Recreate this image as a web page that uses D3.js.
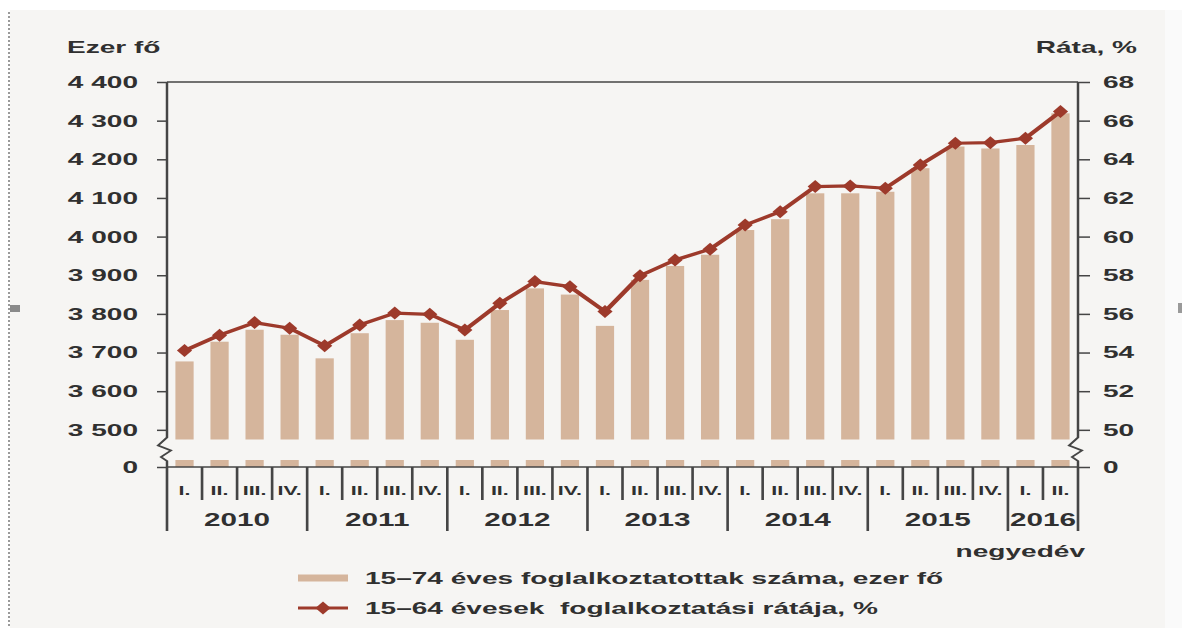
<!DOCTYPE html>
<html>
<head>
<meta charset="utf-8">
<script src="https://cdn.jsdelivr.net/npm/d3@7/dist/d3.min.js"></script>
<style>
  html, body { margin: 0; padding: 0; background: #ffffff; }
  svg { display: block; }
  text { font-family: "Liberation Sans", Arial, sans-serif; font-weight: 700; fill: #303030; }
</style>
</head>
<body>
<svg id="chart"></svg>
<script>
// Quarterly employment, Hungary 2010 Q1 – 2016 Q2
const years = ["2010", "2011", "2012", "2013", "2014", "2015", "2016"];
const quartersPerYear = [4, 4, 4, 4, 4, 4, 2];
const quarterNames = ["I.", "II.", "III.", "IV."];

// 15–74 year-olds in employment, thousand persons
const employed = [
  3677, 3728, 3759, 3746,
  3685, 3750, 3784, 3777,
  3733, 3810, 3866, 3850,
  3769, 3888, 3924, 3953,
  4017, 4045, 4112, 4112,
  4116, 4177, 4233, 4228,
  4237, 4319
];

// Employment rate of 15–64 year-olds, %
const rate = [
  54.1, 54.9, 55.55, 55.26,
  54.35, 55.43, 56.04, 55.98,
  55.17, 56.55, 57.67, 57.41,
  56.12, 57.97, 58.79, 59.35,
  60.6, 61.29, 62.59, 62.62,
  62.5, 63.71, 64.83, 64.86,
  65.09, 66.47
];

const leftTicks = [0, 3500, 3600, 3700, 3800, 3900, 4000, 4100, 4200, 4300, 4400];
const rightTicks = [0, 50, 52, 54, 56, 58, 60, 62, 64, 66, 68];

// Axis break: values between these pairs are collapsed into a small gap
const leftBreak = [25, 3475];
const rightBreak = [0.5, 49.5];

const legendLabels = [
  "15–74 éves foglalkoztatottak száma, ezer fő",
  "15–64 évesek  foglalkoztatási rátája, %"
];

// ---------------------------------------------------------------
const W = 1182, H = 628;
const SX = 1.65;                 // horizontal stretch of the whole drawing
const px = v => v / SX;          // screen x -> drawing x

const barColor = "#d5b59c";
const lineColor = "#9d3a2b";
const axisColor = "#454545";

const svg = d3.select("#chart")
  .attr("width", W).attr("height", H)
  .attr("viewBox", `0 0 ${W / SX} ${H}`)
  .attr("preserveAspectRatio", "none");

// page panel
svg.append("rect").attr("x", px(10)).attr("y", 10)
  .attr("width", px(1155)).attr("height", H - 10).attr("fill", "#f6f5f3");
svg.append("rect").attr("x", px(1165)).attr("y", 10)
  .attr("width", px(17)).attr("height", H - 10).attr("fill", "#fafafa");
svg.append("line").attr("x1", px(9)).attr("x2", px(9)).attr("y1", 12).attr("y2", H)
  .attr("stroke", "#9a9a9a").attr("stroke-width", 1.2).attr("stroke-dasharray", "2,2");
svg.append("rect").attr("x", px(10)).attr("y", 305).attr("width", px(10)).attr("height", 7).attr("fill", "#8a8a8a");
svg.append("rect").attr("x", px(1178)).attr("y", 303).attr("width", px(4)).attr("height", 10).attr("fill", "#9a9a9a");

// categories
const categories = [];
years.forEach((y, yi) => {
  for (let q = 0; q < quartersPerYear[yi]; q++) categories.push({ year: y, q: quarterNames[q], first: q === 0 });
});

const x = d3.scaleBand()
  .domain(d3.range(categories.length))
  .range([px(167), px(1078)])
  .paddingInner(0.48)
  .paddingOuter(0.24);

const yL = d3.scaleLinear()
  .domain([0, leftBreak[0], leftBreak[1], 4400])
  .range([467, 460, 439.5, 82]);
const yR = d3.scaleLinear()
  .domain([0, rightBreak[0], rightBreak[1], 68])
  .range([467, 460, 439.5, 82]);

const x0 = x.range()[0], x1 = x.range()[1];
const edge = i => x0 + i * x.step();

// bars: upper part above the break, short stub below it
const bars = svg.append("g").attr("fill", barColor);
bars.selectAll("rect.upper").data(employed).join("rect")
  .attr("class", "upper")
  .attr("x", (d, i) => x(i)).attr("width", x.bandwidth())
  .attr("y", d => yL(d)).attr("height", d => yL(leftBreak[1]) - yL(d));
bars.selectAll("rect.stub").data(employed).join("rect")
  .attr("class", "stub")
  .attr("x", (d, i) => x(i)).attr("width", x.bandwidth())
  .attr("y", yL(leftBreak[0])).attr("height", yL(0) - yL(leftBreak[0]));

// frame: top and bottom lines
const frame = svg.append("g").attr("stroke", axisColor).attr("stroke-width", 1.5).attr("fill", "none");
frame.append("line").attr("x1", x0).attr("x2", x1).attr("y1", yL(4400)).attr("y2", yL(4400));
frame.append("line").attr("x1", x0).attr("x2", x1).attr("y1", yL(0)).attr("y2", yL(0));

// broken vertical axis lines
function brokenAxis(xa) {
  const top = yL(4400), b1 = yL(leftBreak[1]) - 2, b2 = yL(leftBreak[0]) + 1, bot = yL(0);
  const p = d3.path();
  p.moveTo(xa, top); p.lineTo(xa, b1);
  p.lineTo(xa - px(9), b1 + 8);
  p.lineTo(xa + px(4), b1 + 13);
  p.lineTo(xa - px(6), b2 - 4);
  p.lineTo(xa, b2);
  p.lineTo(xa, bot);
  return p.toString();
}
frame.append("path").attr("d", brokenAxis(x0));
frame.append("path").attr("d", brokenAxis(x1));

// left axis
const huFmt = d3.formatLocale({ decimal: ",", thousands: "\u00a0", grouping: [3], currency: ["", ""] }).format(",");
const axL = svg.append("g").attr("transform", `translate(${x0},0)`)
  .call(d3.axisLeft(yL).tickValues(leftTicks).tickFormat(huFmt).tickSize(px(10)).tickPadding(px(19)));
axL.select(".domain").remove();
axL.selectAll(".tick line").attr("stroke", axisColor).attr("stroke-width", 1.5);
axL.selectAll(".tick text").attr("font-size", 17).attr("fill", "#303030")
  .style("font-family", null);
axL.attr("font-family", null).attr("font-size", null);

// right axis
const axR = svg.append("g").attr("transform", `translate(${x1},0)`)
  .call(d3.axisRight(yR).tickValues(rightTicks).tickSize(px(12)).tickPadding(px(13)));
axR.select(".domain").remove();
axR.selectAll(".tick line").attr("stroke", axisColor).attr("stroke-width", 1.5);
axR.selectAll(".tick text").attr("font-size", 17).attr("fill", "#303030");
axR.attr("font-family", null).attr("font-size", null);

// axis titles
svg.append("text").attr("x", px(67)).attr("y", 53).attr("font-size", 17).text("Ezer fő");
svg.append("text").attr("x", px(1137)).attr("y", 53).attr("font-size", 17)
  .attr("text-anchor", "end").text("Ráta, %");

// category axis: quarter cells and year groups
const cat = svg.append("g");
d3.range(categories.length + 1).forEach(i => {
  const isYear = i === categories.length || categories[i].first;
  cat.append("line")
    .attr("x1", edge(i)).attr("x2", edge(i))
    .attr("y1", yL(0)).attr("y2", isYear ? 531 : 500)
    .attr("stroke", axisColor).attr("stroke-width", 1.6);
});
cat.selectAll("text.q").data(categories).join("text")
  .attr("class", "q")
  .attr("x", (d, i) => x(i) + x.bandwidth() / 2)
  .attr("y", 495)
  .attr("text-anchor", "middle")
  .attr("font-size", 13)
  .text(d => d.q);

let start = 0;
years.forEach((y, yi) => {
  const n = quartersPerYear[yi];
  cat.append("text")
    .attr("x", (edge(start) + edge(start + n)) / 2)
    .attr("y", 526)
    .attr("text-anchor", "middle")
    .attr("font-size", 18)
    .text(y);
  start += n;
});
svg.append("text").attr("x", px(1085)).attr("y", 557).attr("text-anchor", "end")
  .attr("font-size", 17).text("negyedév");

// rate line with diamond markers
const line = d3.line()
  .x((d, i) => x(i) + x.bandwidth() / 2)
  .y(d => yR(d));
svg.append("path").datum(rate)
  .attr("d", line)
  .attr("fill", "none").attr("stroke", lineColor).attr("stroke-width", 3.2)
  .attr("stroke-linejoin", "round");

const diamond = "M0,-6.5L4.6,0L0,6.5L-4.6,0Z";
svg.append("g").selectAll("path").data(rate).join("path")
  .attr("d", diamond)
  .attr("transform", (d, i) => `translate(${x(i) + x.bandwidth() / 2},${yR(d)})`)
  .attr("fill", lineColor);

// legend
const lg = svg.append("g");
lg.append("line").attr("x1", px(298)).attr("x2", px(348)).attr("y1", 578).attr("y2", 578)
  .attr("stroke", barColor).attr("stroke-width", 7);
lg.append("text").attr("x", px(365)).attr("y", 584).attr("font-size", 17).text(legendLabels[0]);
lg.append("line").attr("x1", px(298)).attr("x2", px(348)).attr("y1", 608).attr("y2", 608)
  .attr("stroke", lineColor).attr("stroke-width", 3.2);
lg.append("path").attr("d", diamond).attr("transform", `translate(${px(323)},608)`).attr("fill", lineColor);
lg.append("text").attr("x", px(365)).attr("y", 614).attr("font-size", 17)
  .attr("xml:space", "preserve").style("white-space", "pre").text(legendLabels[1]);
</script>
</body>
</html>
